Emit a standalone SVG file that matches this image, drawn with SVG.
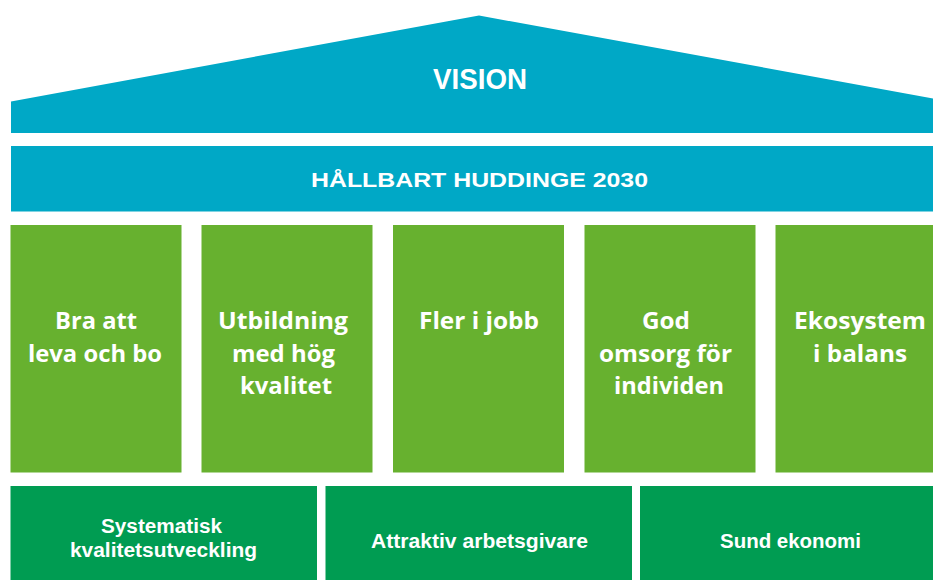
<svg xmlns="http://www.w3.org/2000/svg" width="933" height="580" viewBox="0 0 933 580">
<style>
.blue{fill:#00A8C6}
.pillar{fill:#67B12F}
.base{fill:#009C52}
text{fill:#fff;font-family:"Open Sans","Noto Sans","Liberation Sans",sans-serif;font-weight:700;text-anchor:middle}
.c{font-family:"Liberation Sans","Arial",sans-serif}
.p{font-size:24px}
.b{font-size:20px}
</style>
<rect width="933" height="580" fill="#fff"/>
<g id="vision">
<polygon class="blue" points="11,101.5 479,15.5 933,98.5 933,133 11,133"/>
<text class="c" x="480" y="89" font-size="29" textLength="94" lengthAdjust="spacingAndGlyphs">VISION</text>
</g>
<g id="hallbart">
<rect class="blue" x="11" y="146" width="922" height="65.5"/>
<text class="c" x="479.5" y="187" font-size="21" textLength="337" lengthAdjust="spacingAndGlyphs">HÅLLBART HUDDINGE 2030</text>
</g>
<g id="pillar1">
<rect class="pillar" x="10.5" y="225" width="171" height="247.5"/>
<text class="p" x="96" y="329" textLength="82" lengthAdjust="spacingAndGlyphs">Bra att</text>
<text class="p" x="95" y="361.5" textLength="134" lengthAdjust="spacingAndGlyphs">leva och bo</text>
</g>
<g id="pillar2">
<rect class="pillar" x="201.5" y="225" width="171" height="247.5"/>
<text class="p" x="283" y="329" textLength="130" lengthAdjust="spacingAndGlyphs">Utbildning</text>
<text class="p" x="283.5" y="361.5" textLength="103" lengthAdjust="spacingAndGlyphs">med hög</text>
<text class="p" x="286" y="393.5" textLength="92" lengthAdjust="spacingAndGlyphs">kvalitet</text>
</g>
<g id="pillar3">
<rect class="pillar" x="393" y="225" width="171" height="247.5"/>
<text class="p" x="479" y="329" textLength="120" lengthAdjust="spacingAndGlyphs">Fler i jobb</text>
</g>
<g id="pillar4">
<rect class="pillar" x="584.5" y="225" width="171" height="247.5"/>
<text class="p" x="666" y="328.5" textLength="48" lengthAdjust="spacingAndGlyphs">God</text>
<text class="p" x="665.5" y="361.5" textLength="133" lengthAdjust="spacingAndGlyphs">omsorg för</text>
<text class="p" x="669" y="393.5" textLength="110" lengthAdjust="spacingAndGlyphs">individen</text>
</g>
<g id="pillar5">
<rect class="pillar" x="775.5" y="225" width="158" height="247.5"/>
<text class="p" x="860" y="329" textLength="132" lengthAdjust="spacingAndGlyphs">Ekosystem</text>
<text class="p" x="860" y="361.5" textLength="94" lengthAdjust="spacingAndGlyphs">i balans</text>
</g>
<g id="base1">
<rect class="base" x="10.5" y="486" width="306.5" height="94"/>
<text class="b c" x="161.5" y="533" textLength="121" lengthAdjust="spacingAndGlyphs">Systematisk</text>
<text class="b c" x="163.5" y="557" textLength="187" lengthAdjust="spacingAndGlyphs">kvalitetsutveckling</text>
</g>
<g id="base2">
<rect class="base" x="325.5" y="486" width="306.5" height="94"/>
<text class="b c" x="479.5" y="547.5" textLength="217" lengthAdjust="spacingAndGlyphs">Attraktiv arbetsgivare</text>
</g>
<g id="base3">
<rect class="base" x="640" y="486" width="293" height="94"/>
<text class="b c" x="790.5" y="547.5" textLength="141" lengthAdjust="spacingAndGlyphs">Sund ekonomi</text>
</g>
<g id="connectors"/>
</svg>
